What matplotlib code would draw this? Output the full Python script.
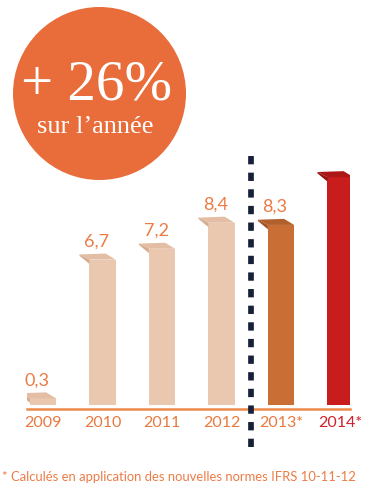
import matplotlib
matplotlib.use('Agg')
import matplotlib.pyplot as plt
from matplotlib.patches import Circle, Polygon

# data
years = ['2009', '2010', '2011', '2012', '2013*', '2014*']
values = [0.3, 6.7, 7.2, 8.4, 8.3, 10.5]
value_labels = ['0,3', '6,7', '7,2', '8,4', '8,3', '']
front_colors = ['#EAC8AF', '#EAC8AF', '#EAC8AF', '#EAC8AF', '#C96F36', '#C91D1D']
cap_colors = ['#E4BEA4', '#E4BEA4', '#E4BEA4', '#E4BEA4', '#B2602C', '#AC1717']
side_colors = ['#D6AC90', '#D6AC90', '#D6AC90', '#D6AC90', '#9E5425', '#951313']
tick_colors = ['#E8793F', '#E8793F', '#E8793F', '#E8793F', '#E8793F', '#D0202A']

orange = '#EC7B45'
sans = ['Lato', 'DejaVu Sans']
serif = ['Liberation Serif', 'DejaVu Serif']

fig = plt.figure(figsize=(3.74, 4.88), dpi=100)

# bar chart
ax = fig.add_axes([27 / 374, 0.1613, 323 / 374, 0.520])
x = list(range(len(years)))
width = 0.44
ax.bar(x, values, width=width, color=front_colors, linewidth=0, zorder=2)

# top flap giving the 3D look
d, h = 0.168, 0.24
for xi, v, cc, sc in zip(x, values, cap_colors, side_colors):
    x0, x1 = xi - width / 2, xi + width / 2
    ax.add_patch(Polygon([(x0, v), (x1, v), (x1 - d, v + h + 0.04), (x0 - d, v + h)],
                         closed=True, facecolor=cc, edgecolor='none', zorder=3))
    ax.add_patch(Polygon([(x0 - d, v + h), (x0, v), (x0, v - 0.2), (x0 - d, v + h - 0.06)],
                         closed=True, facecolor=sc, edgecolor='none', zorder=3))

for xi, v, lab in zip(x, values, value_labels):
    if lab:
        ax.annotate(lab, (xi, v), xytext=(-6, 18), textcoords='offset pixels',
                    ha='center', va='center', color=orange, fontsize=13,
                    family=sans)

ax.axvline(3.5, ymin=-0.149, ymax=1.0, color='#17203A', lw=4.1,
           linestyle=(0, (1.46, 1.46)), clip_on=False, zorder=4)

ax.set_xlim(-0.27, 5.16)
ax.set_ylim(-0.2, 11.5)
for s in ['top', 'right', 'left']:
    ax.spines[s].set_visible(False)
ax.spines['bottom'].set_color('#EE8A4A')
ax.spines['bottom'].set_linewidth(1.8)
ax.set_yticks([])
ax.set_xticks(x)
ax.set_xticklabels(years, fontsize=11.5, family=sans)
for lbl, c in zip(ax.get_xticklabels(), tick_colors):
    lbl.set_color(c)
ax.tick_params(axis='x', length=0, pad=4.5)
ax.patch.set_alpha(0)

# overlay for the circle and footnote
ov = fig.add_axes([0, 0, 1, 1], zorder=-1)
ov.set_xlim(0, 374)
ov.set_ylim(488, 0)
ov.axis('off')
ov.add_patch(Circle((99.5, 93.5), 86.5, facecolor='#E96C3B', edgecolor='none'))
ov.text(97, 100, '+ 26%', ha='center', va='baseline', color='white',
        fontsize=41, family=serif)
ov.text(95, 133, 'sur l\u2019année', ha='center', va='baseline', color='white',
        fontsize=19, family=serif)

fig.text(2 / 374, 1 - 477 / 488, '* Calculés en application des nouvelles normes IFRS 10-11-12',
         ha='left', va='center', color=orange, fontsize=9.4, family=sans)

fig.savefig('out.png', dpi=100)
